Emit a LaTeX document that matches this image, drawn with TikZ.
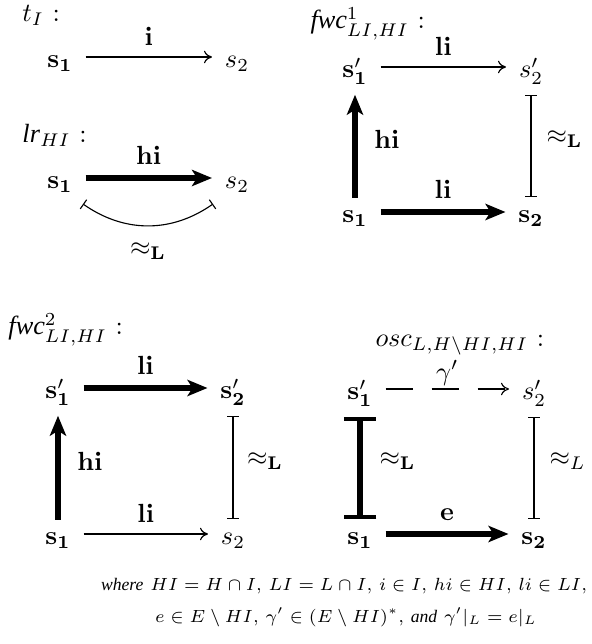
\RequirePackage{fix-cm}
\documentclass[tikz,border=0pt]{standalone}
\usepackage[no-math]{fontspec}
\newfontfamily\tms{Liberation Serif}
\usetikzlibrary{arrows.meta}
\begin{document}
\begin{tikzpicture}[x=0.4pt,y=-0.4pt,
  every node/.style={font=\fontsize{10.5}{12.5}\selectfont},
  st/.style={inner xsep=5pt, inner ysep=0pt, text height=8.6pt, text depth=0pt},
  ttl/.style={anchor=base west, inner sep=0pt},
  lbl/.style={midway, anchor=base, inner sep=0pt, yshift=4.6pt},
  tlbl/.style={midway, anchor=base, inner sep=0pt, yshift=5.4pt},
  vlbl/.style={midway, anchor=west, inner sep=0pt, xshift=6pt},
  thinar/.style={line width=0.45pt, -{Computer Modern Rightarrow[length=3.2pt,width=5pt]}},
  thickar/.style={line width=2.2pt, -{Stealth[length=8pt,width=6.5pt,inset=2pt]}},
  thinbar/.style={line width=0.45pt, {Bar[width=4.5pt]}-{Bar[width=4.5pt]}},
  thickbar/.style={line width=2.4pt, {Bar[width=13pt,line width=1.6pt]}-{Bar[width=13pt,line width=1.6pt]}},
  dashar/.style={line width=0.45pt, dash pattern=on 10.8pt off 7.6pt, -{Computer Modern Rightarrow[length=3.2pt,width=5pt]}},
  capt/.style={inner sep=0pt, font=\fontsize{7.05}{8.5}\selectfont}
]
\useasboundingbox (0,0) rectangle (591,644);

% t_I
\node[ttl] (tA) at (22,22) {$t_I$ :};
\node[st] (A1) at (60,57) {$\mathbf{s_1}$};
\node[st] (A2) at (237,57) {$s_2$};
\draw[thinar] (A1) -- node[lbl] {$\mathbf{i}$} (A2);

% lr_HI
\node[ttl] (tB) at (22,143) {{\tms\itshape lr}$_{HI}$ :};
\node[st] (B1) at (60,178) {$\mathbf{s_1}$};
\node[st] (B2) at (237,178) {$s_2$};
\draw[thickar] (B1) -- node[tlbl] {$\mathbf{hi}$} (B2);
\coordinate (B1c) at (83,204);
\coordinate (B2c) at (213,204);
\draw[thinbar] (B1c) to[bend right=35] node[midway, anchor=north, inner sep=0pt, yshift=-6.5pt] {$\approx_{\mathbf{L}}$} (B2c);

% fwc^1
\node[ttl] (tC) at (310,29) {{\tms\itshape fwc}$^1_{LI,HI}$ :};
\node[st] (C1p) at (355,67) {$\mathbf{s'_1}$};
\node[st] (C2p) at (531,67) {$s'_2$};
\node[st] (C1) at (355,212) {$\mathbf{s_1}$};
\node[st] (C2) at (531,212) {$\mathbf{s_2}$};
\draw[thinar] (C1p) -- node[lbl] {$\mathbf{li}$} (C2p);
\draw[thickar] (C1) -- node[tlbl] {$\mathbf{li}$} (C2);
\draw[thickar, shorten <=1.2pt, shorten >=6.6pt] (C1.north) -- node[vlbl, xshift=0.6pt] {$\mathbf{hi}$} (C1p.south);
\draw[thinbar, shorten <=1.6pt, shorten >=6.8pt] (C2.north) -- node[vlbl] {$\approx_{\mathbf{L}}$} (C2p.south);

% fwc^2
\node[ttl] (tD) at (8,335) {{\tms\itshape fwc}$^2_{LI,HI}$ :};
\node[st] (D1p) at (58,388) {$\mathbf{s'_1}$};
\node[st] (D2p) at (233,388) {$\mathbf{s'_2}$};
\node[st] (D1) at (58,534) {$\mathbf{s_1}$};
\node[st] (D2) at (233,534) {$s_2$};
\draw[thickar] (D1p) -- node[tlbl] {$\mathbf{li}$} (D2p);
\draw[thinar] (D1) -- node[lbl] {$\mathbf{li}$} (D2);
\draw[thickar, shorten <=1.2pt, shorten >=6.6pt] (D1.north) -- node[vlbl, xshift=0.6pt] {$\mathbf{hi}$} (D1p.south);
\draw[thinbar, shorten <=1.6pt, shorten >=6.8pt] (D2.north) -- node[vlbl, xshift=-0.6pt] {$\approx_{\mathbf{L}}$} (D2p.south);

% osc
\node[ttl] (tE) at (375,346) {$osc_{L,H\setminus HI,HI}$ :};
\node[st] (E1p) at (360,389) {$\mathbf{s'_1}$};
\node[st] (E2p) at (534,389) {$s'_2$};
\node[st] (E1) at (360,534) {$\mathbf{s_1}$};
\node[st] (E2) at (534,534) {$\mathbf{s_2}$};
\draw[dashar] (E1p) -- node[lbl, yshift=-1.2pt] {$\gamma'$} (E2p);
\draw[thickar] (E1) -- node[tlbl] {$\mathbf{e}$} (E2);
\draw[thickbar, shorten <=1.6pt, shorten >=6.8pt] (E1.north) -- node[vlbl, xshift=0.6pt] {$\approx_{\mathbf{L}}$} (E1p.south);
\draw[thinbar, shorten <=1.6pt, shorten >=6.8pt] (E2.north) -- node[vlbl] {$\approx_L$} (E2p.south);

% caption
\node[capt] (cap1) at (344,586) {{\tms\itshape where} $HI=H\cap I$, $LI=L\cap I$, $i\in I$, $hi\in HI$, $li\in LI$,};
\node[capt] (cap2) at (346,617) {$e\in E\setminus HI$, $\gamma'\in(E\setminus HI)^*$, {\tms\itshape and} $\gamma'|_L=e|_L$};
\end{tikzpicture}
\end{document}
